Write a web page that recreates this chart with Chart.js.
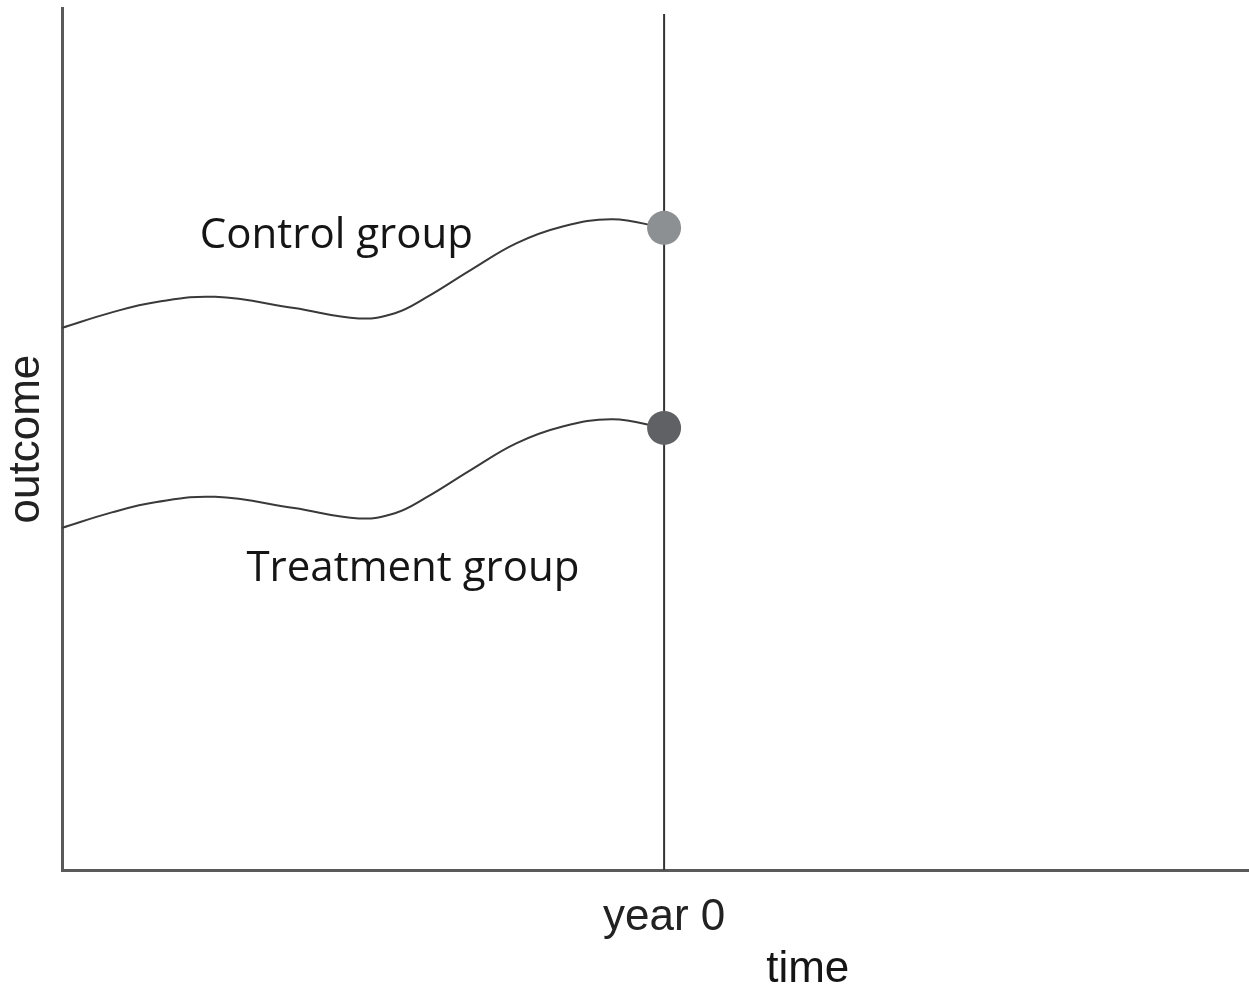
<!DOCTYPE html>
<html>
<head>
<meta charset="utf-8">
<script src="https://cdn.jsdelivr.net/npm/chart.js@4/dist/chart.umd.min.js"></script>
<style>
  html, body { margin: 0; padding: 0; background: #ffffff; }
  .wrap { position: relative; width: 1249px; height: 989px; }
</style>
</head>
<body>
<div class="wrap"><canvas id="chart"></canvas></div>
<script>
// time axis (years relative to year 0)
const years = [-7.0, -6.42, -5.9, -5.22, -4.3, -3.55, -3.13, -2.77, -2.25, -1.72, -1.2, -0.6, 0];
const controlGroup = [62.9, 64.7, 65.9, 66.5, 65.2, 64.0, 64.6, 66.4, 69.6, 72.7, 74.6, 75.5, 74.5];
const treatmentGroup = [39.7, 41.5, 42.7, 43.3, 42.0, 40.8, 41.4, 43.2, 46.4, 49.5, 51.4, 52.3, 51.3];
const xTicks = [0];
const xTickLabels = ['year 0'];
const yearZeroLine = [0, 99.3];

// text placed on the plot in data units
const notes = [
    { text: 'Control group', x: -3.81, y: 72.2, font: '42px "Open Sans"' },
    { text: 'Treatment group', x: -2.92, y: 33.6, font: '42px "Open Sans"' },
    { text: 'time', x: 1.67, y: -13.0, font: '44px "Liberation Sans"' }
];

const toPoints = (xs, ys) => xs.map((x, i) => ({ x: x, y: ys[i] }));
const lastDot = (r) => (ctx) => ctx.dataIndex === years.length - 1 ? r : 0;

const notesPlugin = {
    id: 'notes',
    afterDraw(chart) {
        const c = chart.ctx;
        const xs = chart.scales.x, ys = chart.scales.y;
        c.save();
        c.fillStyle = '#151515';
        c.textAlign = 'center';
        c.textBaseline = 'alphabetic';
        notes.forEach(n => {
            c.font = n.font;
            c.fillText(n.text, xs.getPixelForValue(n.x), ys.getPixelForValue(n.y));
        });
        c.restore();
    }
};

new Chart(document.getElementById('chart').getContext('2d'), {
    type: 'line',
    data: {
        datasets: [
            {
                label: 'Control group',
                data: toPoints(years, controlGroup),
                borderColor: '#3a3a3a',
                borderWidth: 2,
                tension: 0.4,
                pointRadius: lastDot(17),
                pointBackgroundColor: '#8d9093',
                pointBorderWidth: 0,
                order: 1
            },
            {
                label: 'Treatment group',
                data: toPoints(years, treatmentGroup),
                borderColor: '#3a3a3a',
                borderWidth: 2,
                tension: 0.4,
                pointRadius: lastDot(17),
                pointBackgroundColor: '#5f6165',
                pointBorderWidth: 0,
                order: 1
            },
            {
                label: 'year 0',
                data: yearZeroLine.map(v => ({ x: 0, y: v })),
                borderColor: '#333333',
                borderWidth: 2,
                pointRadius: 0,
                order: 2
            }
        ]
    },
    options: {
        responsive: true,
        maintainAspectRatio: false,
        animation: false,
        layout: { autoPadding: false, padding: { top: 8, left: 0, right: 0, bottom: 24 } },
        plugins: {
            legend: { display: false },
            tooltip: { enabled: false }
        },
        scales: {
            x: {
                type: 'linear',
                min: -7,
                max: 6.8,
                grid: { display: false, drawTicks: false },
                border: { display: true, color: '#5a5a5a', width: 3 },
                afterBuildTicks: (scale) => { scale.ticks = xTicks.map(v => ({ value: v })); },
                ticks: {
                    padding: 21,
                    color: '#222222',
                    font: { family: '"Liberation Sans", Arial, sans-serif', size: 44 },
                    callback: (v) => xTickLabels[xTicks.indexOf(v)] ?? ''
                }
            },
            y: {
                type: 'linear',
                min: 0,
                max: 100,
                grid: { display: false, drawTicks: false },
                border: { display: true, color: '#5a5a5a', width: 3 },
                ticks: { display: false },
                title: {
                    display: true,
                    text: 'outcome',
                    color: '#222222',
                    font: { family: '"Liberation Sans", Arial, sans-serif', size: 44 },
                    padding: { top: 0, bottom: 9.2 }
                }
            }
        }
    },
    plugins: [notesPlugin]
});
</script>
</body>
</html>
